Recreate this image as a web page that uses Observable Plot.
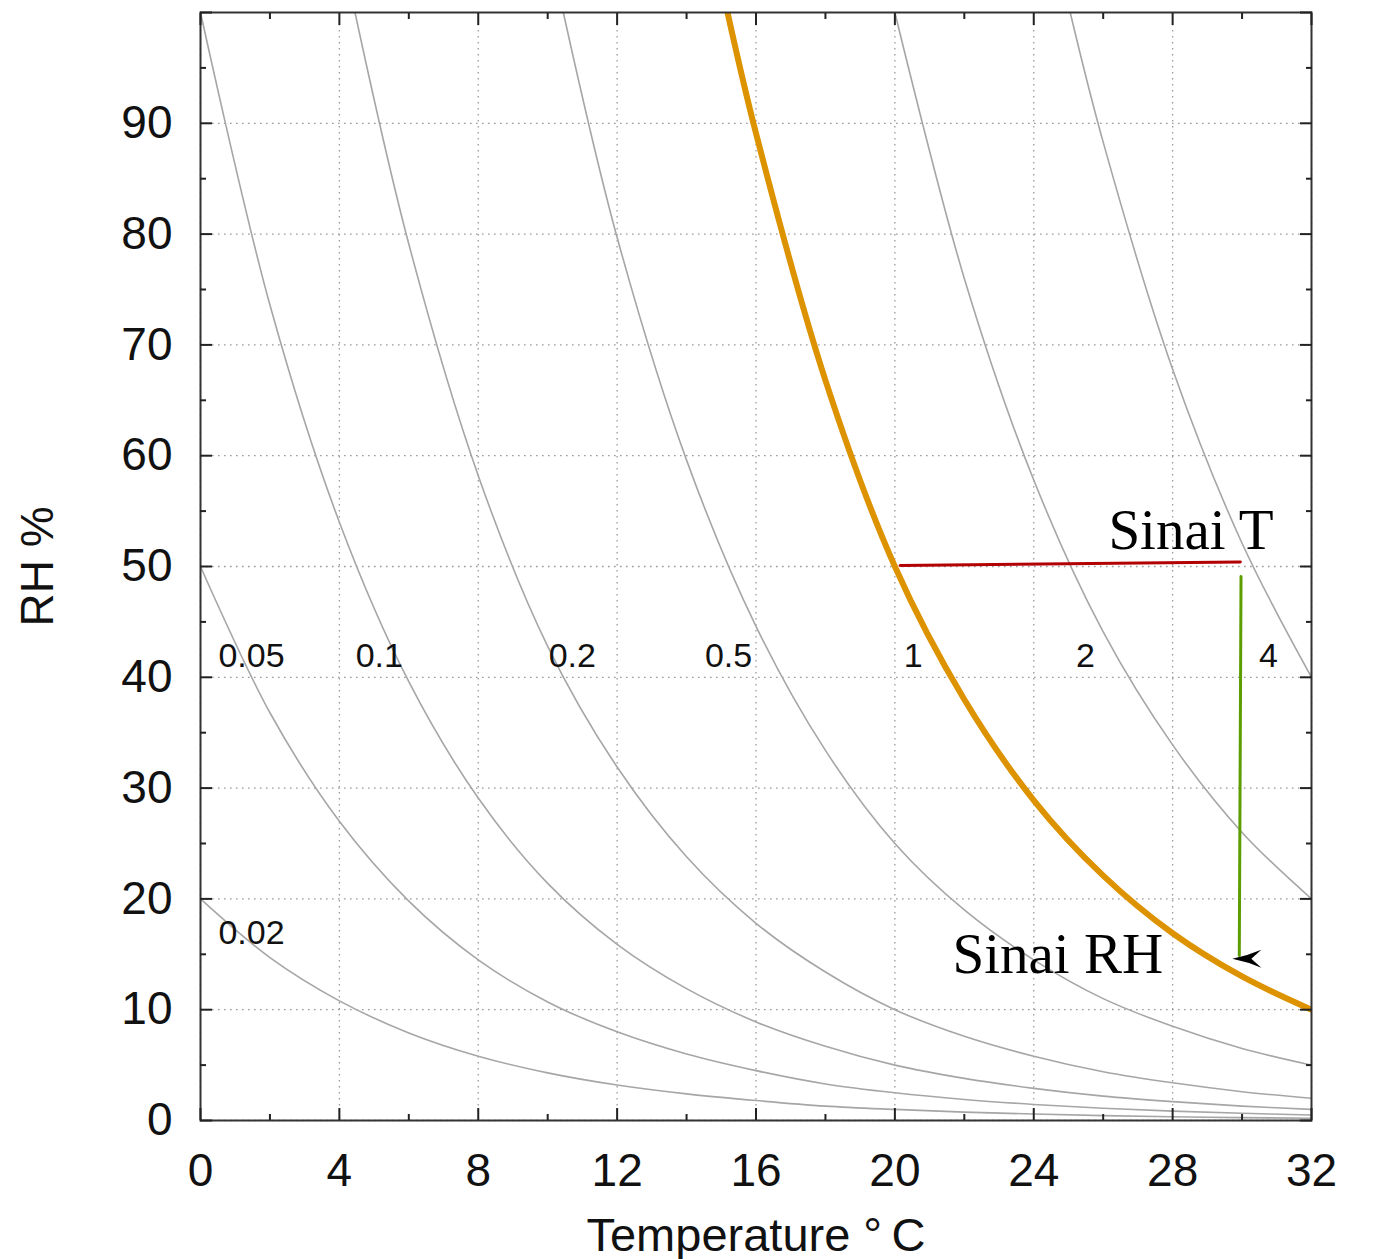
<!DOCTYPE html>
<html>
<head>
<meta charset="utf-8">
<script src="https://cdn.jsdelivr.net/npm/d3@7"></script>
<script src="https://cdn.jsdelivr.net/npm/@observablehq/plot@0.6"></script>
<style>
  html, body { margin: 0; padding: 0; background: #fff; }
  #chart svg { display: block; }
</style>
</head>
<body>
<div id="chart"></div>
<script>
// Isoperms: lines of equal relative decay rate (1 = 20 °C, 50 % RH)
const temps = [0, 2, 4, 6, 8, 10, 12, 14, 16, 18, 20, 22, 24, 26, 28, 30, 32];

// RH (%) along each isoperm at the temperatures above; null = above 100 %
const rh002 = [20.0, 14.7, 10.8, 7.9, 5.8, 4.3, 3.2, 2.4, 1.8, 1.3, 1.0, 0.76, 0.58, 0.44, 0.34, 0.26, 0.2];
const rh005 = [50.0, 36.8, 27.0, 19.8, 14.5, 10.7, 8.0, 6.0, 4.5, 3.3, 2.5, 1.9, 1.45, 1.1, 0.85, 0.65, 0.5];
const rh01  = [100, 73.6, 54.0, 39.6, 29.1, 21.4, 15.9, 11.9, 8.9, 6.7, 5.0, 3.8, 2.9, 2.2, 1.7, 1.3, 1.0];
const rh02  = [null, null, null, 79.1, 58.2, 42.8, 31.9, 23.8, 17.8, 13.4, 10.0, 7.6, 5.8, 4.4, 3.4, 2.6, 2.0];
const rh05  = [null, null, null, null, null, null, 79.7, 59.6, 44.6, 33.4, 25.0, 19.0, 14.5, 11.0, 8.5, 6.5, 5.0];
const rh1   = [null, null, null, null, null, null, null, null, 89.1, 66.8, 50.0, 38.0, 28.9, 22.1, 16.9, 13.0, 10.0];
const rh2   = [null, null, null, null, null, null, null, null, null, null, null, 76.0, 57.8, 44.1, 33.9, 26.0, 20.0];
const rh4   = [null, null, null, null, null, null, null, null, null, null, null, null, null, 88.3, 67.8, 52.1, 40.0];

// isoperm names, their RH series, and where each one enters through the 100 % line
const levels     = ["0.02", "0.05", "0.1", "0.2", "0.5", "1", "2", "4"];
const levelRH    = [rh002, rh005, rh01, rh02, rh05, rh1, rh2, rh4];
const topCrossT  = [null, null, null, 4.45, 10.45, 15.18, 20.0, 25.05];

// label positions of the isoperm names
const labelT  = [1.47, 1.47, 5.15, 10.71, 15.21, 20.53, 25.49, 30.76];
const labelRH = [16.9, 41.9, 41.9, 41.9, 41.9, 41.9, 41.9, 41.9];

// Sinai excursion: temperature rise at constant RH, then RH drop at constant T
const sinaiTemp = [{T: 20.15, RH: 50.1}, {T: 29.95, RH: 50.4}];
const sinaiRH   = [{T: 29.97, RH: 49.1}, {T: 29.92, RH: 14.9}];
const arrowTip  = [{T: 29.72, RH: 14.6}];
const notes = [
  {text: "Sinai T",  T: 26.15, RH: 51.6},
  {text: "Sinai RH", T: 21.66, RH: 13.35}
];

const xMajor = [0, 4, 8, 12, 16, 20, 24, 28, 32];
const xMinor = [2, 6, 10, 14, 18, 22, 26, 30];
const yLabels = [0, 10, 20, 30, 40, 50, 60, 70, 80, 90];
const yMajor = [0, 10, 20, 30, 40, 50, 60, 70, 80, 90, 100];
const yMinor = [5, 15, 25, 35, 45, 55, 65, 75, 85, 95];

// flatten the isoperms into rows for the line marks
const rows = [];
levels.forEach((k, i) => {
  if (topCrossT[i] != null) rows.push({k, T: topCrossT[i], RH: 100});
  levelRH[i].forEach((v, j) => { if (v != null) rows.push({k, T: temps[j], RH: v}); });
});
const grayRows = rows.filter(d => d.k !== "1");
const refRows = rows.filter(d => d.k === "1");
const labels = levels.map((k, i) => ({k, T: labelT[i], RH: labelRH[i]}));

// notched arrowhead, tip at the origin, pointing left
const stealth = {
  draw(ctx) {
    ctx.moveTo(0, 0);
    ctx.quadraticCurveTo(15, -3, 29, -9);
    ctx.lineTo(19, 0);
    ctx.lineTo(29, 9);
    ctx.quadraticCurveTo(15, 3, 0, 0);
    ctx.closePath();
  }
};

const sans = "'Liberation Sans', Arial, Helvetica, sans-serif";
const serif = "'Liberation Serif', 'Times New Roman', serif";
const tickColor = "#222";

const chart = Plot.plot({
  width: 1385,
  height: 1259,
  marginLeft: 200,
  marginRight: 74,
  marginTop: 12,
  marginBottom: 139,
  style: {fontFamily: sans, background: "#fff", color: "#111"},
  x: {domain: [0, 32]},
  y: {domain: [0, 100]},
  marks: [
    // dotted grid
    Plot.gridX(xMajor, {stroke: "#9a9a9a", strokeOpacity: 1, strokeWidth: 1.3, strokeDasharray: "1.6,4.4"}),
    Plot.gridY(yLabels, {stroke: "#9a9a9a", strokeOpacity: 1, strokeWidth: 1.3, strokeDasharray: "1.6,4.4"}),

    // isoperms
    Plot.line(grayRows, {x: "T", y: "RH", z: "k", curve: "catmull-rom", stroke: "#a6a6a6", strokeWidth: 1.6, clip: true}),
    Plot.line(refRows, {x: "T", y: "RH", curve: "catmull-rom", stroke: "#dd9200", strokeWidth: 6, clip: true}),

    Plot.text(labels, {x: "T", y: "RH", text: "k", fontSize: 34, fill: "#111"}),

    // Sinai path
    Plot.line(sinaiTemp, {x: "T", y: "RH", stroke: "#b30000", strokeWidth: 3}),
    Plot.line(sinaiRH, {x: "T", y: "RH", stroke: "#5c9e00", strokeWidth: 3}),
    Plot.dot(arrowTip, {x: "T", y: "RH", symbol: stealth, fill: "#000", stroke: "none"}),
    Plot.text(notes, {x: "T", y: "RH", text: "text", textAnchor: "start", lineAnchor: "bottom",
                      fontFamily: serif, fontSize: 57, fill: "#000"}),

    // frame with inward ticks on all four sides
    Plot.frame({stroke: "#333", strokeWidth: 2}),
    Plot.axisX(xMajor, {anchor: "bottom", tickSize: -12, strokeWidth: 2, stroke: tickColor, fill: "none", label: null}),
    Plot.axisX(xMinor, {anchor: "bottom", tickSize: -6, strokeWidth: 2, stroke: tickColor, fill: "none", label: null}),
    Plot.axisX(xMajor, {anchor: "top", tickSize: -12, strokeWidth: 2, stroke: tickColor, fill: "none", label: null}),
    Plot.axisX(xMinor, {anchor: "top", tickSize: -6, strokeWidth: 2, stroke: tickColor, fill: "none", label: null}),
    Plot.axisY(yMajor, {anchor: "left", tickSize: -12, strokeWidth: 2, stroke: tickColor, fill: "none", label: null}),
    Plot.axisY(yMinor, {anchor: "left", tickSize: -6, strokeWidth: 2, stroke: tickColor, fill: "none", label: null}),
    Plot.axisY(yMajor, {anchor: "right", tickSize: -12, strokeWidth: 2, stroke: tickColor, fill: "none", label: null}),
    Plot.axisY(yMinor, {anchor: "right", tickSize: -6, strokeWidth: 2, stroke: tickColor, fill: "none", label: null}),

    // tick labels
    Plot.axisX(xMajor, {anchor: "bottom", tickSize: 0, tickPadding: 33, fontSize: 46, fill: "#111", label: null}),
    Plot.axisY(yLabels, {anchor: "left", tickSize: 0, tickPadding: 28, fontSize: 46, fill: "#111", label: null}),

    // axis titles
    Plot.text(["Temperature °\u2009C"], {frameAnchor: "bottom", dy: 130, textAnchor: "middle", lineAnchor: "bottom", fontSize: 47, fill: "#111"}),
    Plot.text(["RH %"], {frameAnchor: "left", dx: -148, rotate: -90, textAnchor: "middle", lineAnchor: "bottom", fontSize: 46, fill: "#111"})
  ]
});

document.getElementById("chart").appendChild(chart);
</script>
</body>
</html>
